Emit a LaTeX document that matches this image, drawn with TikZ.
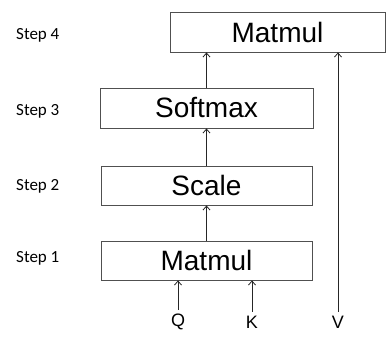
\documentclass[tikz,border=0pt]{standalone}
\usepackage{fontspec}
\setmainfont{Carlito}
\newfontfamily\boxfont{Liberation Sans}
\usetikzlibrary{positioning, arrows.meta}
\definecolor{boxEdge}{RGB}{80, 80, 80}

\begin{document}
\begin{tikzpicture}[x=1pt, y=-1pt,
    >={Straight Barb[length=4pt, width=7pt]},
    flow/.style={->, line width=0.8pt, black!85},
    opbox/.style={draw=boxEdge, line width=0.9pt, font=\boxfont\fontsize{28}{30}\selectfont, inner sep=0pt},
    steplabel/.style={font=\fontsize{17}{19}\selectfont, inner sep=0pt},
    inlabel/.style={font=\boxfont\fontsize{18}{20}\selectfont, inner sep=4pt}]
    \useasboundingbox (0,0) rectangle (389,337);
    % operation boxes
    \node[opbox, minimum width=215pt, minimum height=40pt] (mm2) at (277.5,32) {Matmul};
    \node[opbox, minimum width=213pt, minimum height=40pt] (soft) at (206.5,108) {Softmax};
    \node[opbox, minimum width=211pt, minimum height=39pt] (scale) at (206.5,185.5) {Scale};
    \node[opbox, minimum width=211pt, minimum height=39pt] (mm1) at (206.5,260.5) {Matmul};
    % step labels
    \node[steplabel, anchor=west] (s4) at (16,35) {Step 4};
    \node[steplabel, anchor=west] (s3) at (16,111) {Step 3};
    \node[steplabel, anchor=west] (s2) at (16,186) {Step 2};
    \node[steplabel, anchor=west] (s1) at (16,258) {Step 1};
    % inputs
    \node[inlabel] (q) at (178,322) {Q};
    \node[inlabel] (k) at (252,322) {K};
    \node[inlabel] (v) at (338,322) {V};
    % flow
    \draw[flow] (mm1.north) -- (scale.south);
    \draw[flow] (scale.north) -- (soft.south);
    \draw[flow] (soft.north) -- (soft.north |- mm2.south);
    \draw[flow] (q.north) -- (q.north |- mm1.south);
    \draw[flow] (k.north) -- (k.north |- mm1.south);
    \draw[flow] (v.north) -- (v.north |- mm2.south);
\end{tikzpicture}
\end{document}
